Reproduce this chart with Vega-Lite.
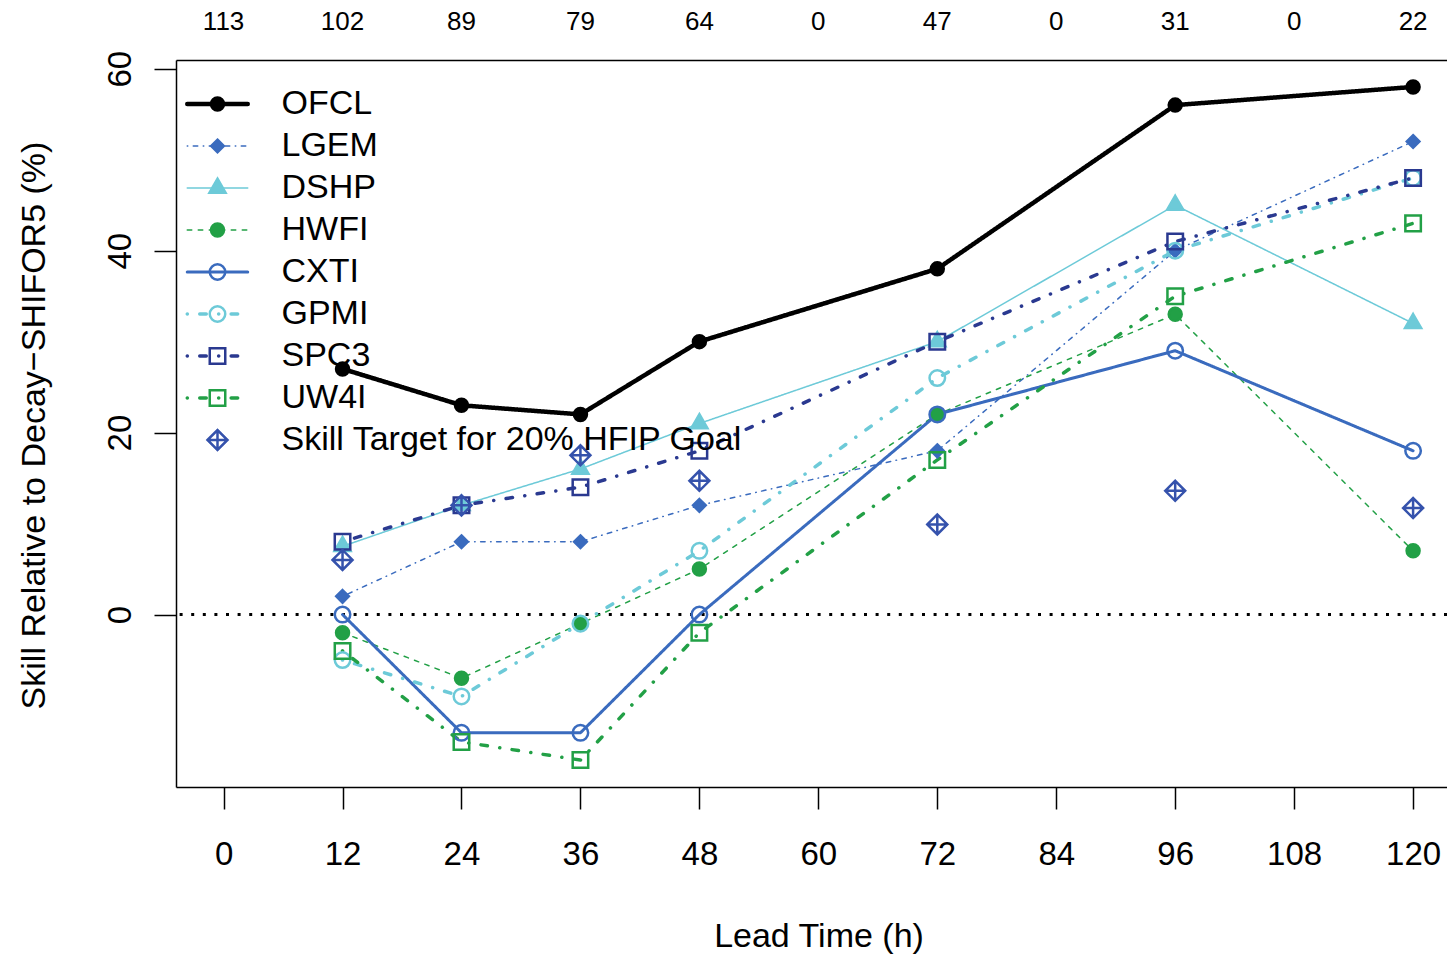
{
  "$schema": "https://vega.github.io/schema/vega-lite/v6.json",
  "width": 1271,
  "height": 727,
  "autosize": {"type": "none"},
  "padding": {"left": 176, "top": 60, "right": 0, "bottom": 168},
  "background": "white",
  "config": {
    "view": {"stroke": null},
    "font": "Liberation Sans",
    "axis": {
      "grid": false,
      "labelColor": "#000000",
      "titleColor": "#000000",
      "tickColor": "#000000",
      "domainColor": "#000000",
      "labelFont": "Liberation Sans",
      "titleFont": "Liberation Sans",
      "labelFontSize": 33,
      "titleFontSize": 34,
      "titleFontWeight": "normal",
      "tickWidth": 1.5,
      "domainWidth": 1.5,
      "tickSize": 22
    },
    "legend": {
      "labelFont": "Liberation Sans",
      "labelFontSize": 34,
      "labelColor": "#000000"
    }
  },
  "datasets": {
    "skill": [
      {"model": "OFCL", "lead": 12, "skill": 27},
      {"model": "OFCL", "lead": 24, "skill": 23},
      {"model": "OFCL", "lead": 36, "skill": 22},
      {"model": "OFCL", "lead": 48, "skill": 30},
      {"model": "OFCL", "lead": 72, "skill": 38},
      {"model": "OFCL", "lead": 96, "skill": 56},
      {"model": "OFCL", "lead": 120, "skill": 58},
      {"model": "LGEM", "lead": 12, "skill": 2},
      {"model": "LGEM", "lead": 24, "skill": 8},
      {"model": "LGEM", "lead": 36, "skill": 8},
      {"model": "LGEM", "lead": 48, "skill": 12},
      {"model": "LGEM", "lead": 72, "skill": 18},
      {"model": "LGEM", "lead": 96, "skill": 40},
      {"model": "LGEM", "lead": 120, "skill": 52},
      {"model": "DSHP", "lead": 12, "skill": 7.5},
      {"model": "DSHP", "lead": 24, "skill": 12},
      {"model": "DSHP", "lead": 36, "skill": 16},
      {"model": "DSHP", "lead": 48, "skill": 21},
      {"model": "DSHP", "lead": 72, "skill": 30},
      {"model": "DSHP", "lead": 96, "skill": 45},
      {"model": "DSHP", "lead": 120, "skill": 32},
      {"model": "HWFI", "lead": 12, "skill": -2},
      {"model": "HWFI", "lead": 24, "skill": -7},
      {"model": "HWFI", "lead": 36, "skill": -1},
      {"model": "HWFI", "lead": 48, "skill": 5},
      {"model": "HWFI", "lead": 72, "skill": 22},
      {"model": "HWFI", "lead": 96, "skill": 33},
      {"model": "HWFI", "lead": 120, "skill": 7},
      {"model": "CXTI", "lead": 12, "skill": 0},
      {"model": "CXTI", "lead": 24, "skill": -13},
      {"model": "CXTI", "lead": 36, "skill": -13},
      {"model": "CXTI", "lead": 48, "skill": 0},
      {"model": "CXTI", "lead": 72, "skill": 22},
      {"model": "CXTI", "lead": 96, "skill": 29},
      {"model": "CXTI", "lead": 120, "skill": 18},
      {"model": "GPMI", "lead": 12, "skill": -5},
      {"model": "GPMI", "lead": 24, "skill": -9},
      {"model": "GPMI", "lead": 36, "skill": -1},
      {"model": "GPMI", "lead": 48, "skill": 7},
      {"model": "GPMI", "lead": 72, "skill": 26},
      {"model": "GPMI", "lead": 96, "skill": 40},
      {"model": "GPMI", "lead": 120, "skill": 48},
      {"model": "SPC3", "lead": 12, "skill": 8},
      {"model": "SPC3", "lead": 24, "skill": 12},
      {"model": "SPC3", "lead": 36, "skill": 14},
      {"model": "SPC3", "lead": 48, "skill": 18},
      {"model": "SPC3", "lead": 72, "skill": 30},
      {"model": "SPC3", "lead": 96, "skill": 41},
      {"model": "SPC3", "lead": 120, "skill": 48},
      {"model": "UW4I", "lead": 12, "skill": -4},
      {"model": "UW4I", "lead": 24, "skill": -14},
      {"model": "UW4I", "lead": 36, "skill": -16},
      {"model": "UW4I", "lead": 48, "skill": -2},
      {"model": "UW4I", "lead": 72, "skill": 17},
      {"model": "UW4I", "lead": 96, "skill": 35},
      {"model": "UW4I", "lead": 120, "skill": 43},
      {"model": "Skill Target for 20% HFIP Goal", "lead": 12, "skill": 6},
      {"model": "Skill Target for 20% HFIP Goal", "lead": 24, "skill": 12},
      {"model": "Skill Target for 20% HFIP Goal", "lead": 36, "skill": 17.5},
      {"model": "Skill Target for 20% HFIP Goal", "lead": 48, "skill": 14.7},
      {"model": "Skill Target for 20% HFIP Goal", "lead": 72, "skill": 9.9},
      {"model": "Skill Target for 20% HFIP Goal", "lead": 96, "skill": 13.6},
      {"model": "Skill Target for 20% HFIP Goal", "lead": 120, "skill": 11.7}
    ],
    "counts": [
      {"lead": 0, "n": 113},
      {"lead": 12, "n": 102},
      {"lead": 24, "n": 89},
      {"lead": 36, "n": 79},
      {"lead": 48, "n": 64},
      {"lead": 60, "n": 0},
      {"lead": 72, "n": 47},
      {"lead": 84, "n": 0},
      {"lead": 96, "n": 31},
      {"lead": 108, "n": 0},
      {"lead": 120, "n": 22}
    ],
    "reference": [
      {"skill": 0}
    ]
  },
  "layer": [
    {
      "description": "Dotted zero reference line",
      "data": {"name": "reference"},
      "mark": {"type": "rule", "color": "#000000", "strokeWidth": 3, "strokeDash": [3, 8.6]},
      "encoding": {
        "y": {
          "field": "skill",
          "type": "quantitative",
          "scale": {"domain": [-18.96, 60.96], "nice": false, "zero": false},
          "axis": {
            "values": [0, 20, 40, 60],
            "title": "Skill Relative to Decay−SHIFOR5 (%)",
            "labelAngle": -90,
            "labelAlign": "center",
            "labelBaseline": "alphabetic",
            "labelPadding": 24,
            "titleAngle": 270,
            "titleAlign": "center",
            "titleBaseline": "alphabetic",
            "titleX": -132,
            "titleY": 365,
            "domain": true
          }
        }
      }
    },
    {
      "description": "Model skill lines",
      "data": {"name": "skill"},
      "transform": [{"filter": "datum.model !== 'Skill Target for 20% HFIP Goal'"}],
      "mark": {"type": "line", "strokeCap": "round", "strokeJoin": "round"},
      "encoding": {
        "x": {
          "field": "lead",
          "type": "quantitative",
          "scale": {"domain": [-4.8, 123.42], "nice": false, "zero": false},
          "axis": {
            "values": [0, 12, 24, 36, 48, 60, 72, 84, 96, 108, 120],
            "title": "Lead Time (h)",
            "labelBaseline": "alphabetic",
            "labelPadding": 55,
            "titleBaseline": "alphabetic",
            "titleAlign": "center",
            "titleX": 642.5,
            "titleY": 159,
            "labelFlush": false,
            "labelOverlap": false,
            "domain": true
          }
        },
        "y": {"field": "skill", "type": "quantitative"},
        "detail": {"field": "model"},
        "color": {
          "field": "model",
          "type": "nominal",
          "scale": {
            "domain": ["OFCL", "LGEM", "DSHP", "HWFI", "CXTI", "GPMI", "SPC3", "UW4I"],
            "range": ["#000000", "#3A6BBE", "#6DCAD8", "#22A046", "#3A6BBE", "#6DCAD8", "#2A3990", "#22A046"]
          },
          "legend": {
            "orient": "none", "legendX": 9, "legendY": 23, "title": null,
            "symbolType": "stroke", "symbolSize": 3660, "clipHeight": 42, "rowPadding": 0,
            "padding": 0, "symbolOffset": 15.5, "labelExpr": "''", "labelLimit": 600,
            "encode": {
              "entries": {"update": {"width": {"value": 120}}},
              "symbols": {"update": {
                "size": {"value": 3660},
                "strokeWidth": {"signal": "datum.value === 'OFCL' ? 4.5 : datum.value === 'CXTI' ? 3 : (datum.value === 'GPMI' || datum.value === 'SPC3' || datum.value === 'UW4I') ? 3.5 : 1.5"},
                "strokeCap": {"value": "round"}
              }}
            }
          }
        },
        "strokeDash": {
          "field": "model",
          "type": "nominal",
          "scale": {
            "domain": ["OFCL", "LGEM", "DSHP", "HWFI", "CXTI", "GPMI", "SPC3", "UW4I"],
            "range": [[1, 0], [0.5, 5.5, 4.5, 5.5], [1, 0], [4.5, 6.5], [1, 0], [0.1, 12.4, 6.5, 12.4], [0.1, 12.4, 6.5, 12.4], [0.1, 12.4, 6.5, 12.4]]
          },
          "legend": {
            "orient": "none", "legendX": 9, "legendY": 23, "title": null,
            "symbolType": "stroke", "symbolSize": 3660, "clipHeight": 42, "rowPadding": 0,
            "padding": 0, "symbolOffset": 15.5, "labelExpr": "''", "labelLimit": 600
          }
        },
        "strokeWidth": {
          "condition": [
            {"test": "datum.model === 'OFCL'", "value": 4.5},
            {"test": "datum.model === 'CXTI'", "value": 3},
            {"test": "datum.model === 'GPMI' || datum.model === 'SPC3' || datum.model === 'UW4I'", "value": 3.5}
          ],
          "value": 1.5
        }
      }
    },
    {
      "description": "Model skill markers and HFIP target markers",
      "data": {"name": "skill"},
      "mark": {"type": "point", "size": 529, "strokeWidth": 2.5, "opacity": 1},
      "encoding": {
        "x": {"field": "lead", "type": "quantitative", "axis": null},
        "y": {"field": "skill", "type": "quantitative"},
        "shape": {
          "field": "model",
          "type": "nominal",
          "scale": {
            "domain": ["OFCL", "LGEM", "DSHP", "HWFI", "CXTI", "GPMI", "SPC3", "UW4I", "Skill Target for 20% HFIP Goal"],
            "range": [
              "M0.565,0A0.565,0.565 0 1,1 -0.565,0A0.565,0.565 0 1,1 0.565,0Z",
              "M0,-0.55L0.55,0L0,0.55L-0.55,0Z",
              "M0,-0.81L0.7,0.405L-0.7,0.405Z",
              "M0.565,0A0.565,0.565 0 1,1 -0.565,0A0.565,0.565 0 1,1 0.565,0Z",
              "M0.674,0A0.674,0.674 0 1,1 -0.674,0A0.674,0.674 0 1,1 0.674,0Z",
              "M0.674,0A0.674,0.674 0 1,1 -0.674,0A0.674,0.674 0 1,1 0.674,0Z",
              "M-0.674,-0.674L0.674,-0.674L0.674,0.674L-0.674,0.674Z",
              "M-0.674,-0.674L0.674,-0.674L0.674,0.674L-0.674,0.674Z",
              "M-0.87,0L0,-0.87L0.87,0L0,0.87ZM-0.87,0L0.87,0M0,-0.87L0,0.87"
            ]
          },
          "legend": {
            "orient": "none", "legendX": 24.5, "legendY": 23, "title": null,
            "symbolSize": 529, "symbolStrokeWidth": 2.5, "clipHeight": 42, "rowPadding": 0,
            "padding": 0, "symbolOffset": 0, "labelOffset": 47, "labelLimit": 600
          }
        },
        "fill": {
          "field": "model",
          "type": "nominal",
          "scale": {
            "domain": ["OFCL", "LGEM", "DSHP", "HWFI", "CXTI", "GPMI", "SPC3", "UW4I", "Skill Target for 20% HFIP Goal"],
            "range": ["#000000", "#3A6BBE", "#6DCAD8", "#22A046", "transparent", "transparent", "transparent", "transparent", "transparent"]
          },
          "legend": {
            "orient": "none", "legendX": 24.5, "legendY": 23, "title": null,
            "symbolSize": 529, "symbolStrokeWidth": 2.5, "clipHeight": 42, "rowPadding": 0,
            "padding": 0, "symbolOffset": 0, "labelOffset": 47, "labelLimit": 600
          }
        },
        "stroke": {
          "field": "model",
          "type": "nominal",
          "scale": {
            "domain": ["OFCL", "LGEM", "DSHP", "HWFI", "CXTI", "GPMI", "SPC3", "UW4I", "Skill Target for 20% HFIP Goal"],
            "range": ["#000000", "#3A6BBE", "#6DCAD8", "#22A046", "#3A6BBE", "#6DCAD8", "#2A3990", "#22A046", "#3552AC"]
          },
          "legend": {
            "orient": "none", "legendX": 24.5, "legendY": 23, "title": null,
            "symbolSize": 529, "symbolStrokeWidth": 2.5, "clipHeight": 42, "rowPadding": 0,
            "padding": 0, "symbolOffset": 0, "labelOffset": 47, "labelLimit": 600
          }
        }
      }
    },
    {
      "description": "Number of verifying cases above each lead time",
      "data": {"name": "counts"},
      "mark": {"type": "text", "fontSize": 26, "font": "Liberation Sans", "baseline": "alphabetic", "align": "center", "color": "#000000"},
      "encoding": {
        "x": {
          "field": "lead",
          "type": "quantitative",
          "axis": {"orient": "top", "labels": false, "ticks": false, "domain": true, "title": null}
        },
        "y": {"datum": 64.26, "type": "quantitative"},
        "text": {"field": "n", "type": "quantitative"}
      }
    }
  ],
  "resolve": {"axis": {"x": "independent"}}
}
